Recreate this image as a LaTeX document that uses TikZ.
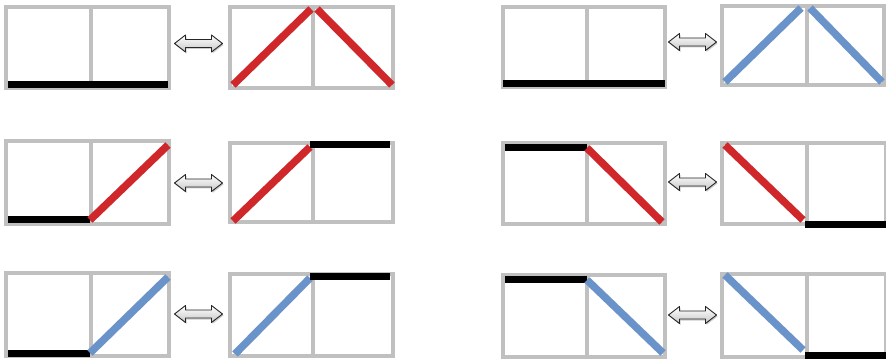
\documentclass[tikz,border=0pt]{standalone}
\usetikzlibrary{shadows}
\definecolor{boxgrey}{RGB}{192,192,192}
\definecolor{linered}{RGB}{208,40,42}
\definecolor{lineblue}{RGB}{106,147,201}
\tikzset{
  gridbox/.style={draw=boxgrey, line width=3.5pt},
  blackbar/.style={draw=black, line width=7pt},
  redbar/.style={draw=linered, line width=7.5pt},
  bluebar/.style={draw=lineblue, line width=7.5pt},
  dblarrow/.style={draw=black!85, line width=0.9pt, line join=round, top color=white, bottom color=black!22,
    drop shadow={shadow xshift=1pt, shadow yshift=-1.5pt, opacity=0.4}},
}
% \cellpair{x0}{y0}{x1}{y1}{xmid}
\newcommand{\cellpair}[5]{%
  \draw[gridbox] (#1,#2) rectangle (#3,#4);
  \draw[gridbox] (#5,#2) -- (#5,#4);
}
% \dbarrow{cx}{cy}
\newcommand{\dbarrow}[2]{%
  \path[dblarrow] (#1-24,#2) -- (#1-13,#2-8.5) -- (#1-13,#2-4) -- (#1+13,#2-4)
    -- (#1+13,#2-8.5) -- (#1+24,#2) -- (#1+13,#2+8.5) -- (#1+13,#2+4)
    -- (#1-13,#2+4) -- (#1-13,#2+8.5) -- cycle;
}
\begin{document}
\begin{tikzpicture}[x=1pt,y=-1pt]
\useasboundingbox (0,0) rectangle (886,363);
\fill[white] (0,0) rectangle (886,363);

% ---------- Row 1 ----------
\cellpair{6}{7}{169}{88}{91}
\draw[blackbar] (8,85) -- (168,85);
\cellpair{230}{7}{393}{88}{313}
\draw[redbar] (233,85) -- (311,9);
\draw[redbar] (317,9) -- (392,85);
\dbarrow{198.5}{43.5}

\cellpair{503}{7}{665}{87}{587}
\draw[blackbar] (503,84) -- (665,84);
\cellpair{722}{6}{884}{85}{807}
\draw[bluebar] (725,82) -- (801,8);
\draw[bluebar] (810,8) -- (882,82);
\dbarrow{692.5}{42}

% ---------- Row 2 ----------
\cellpair{6}{141}{169}{224}{91}
\draw[blackbar] (8,220) -- (90,220);
\draw[redbar] (90,220) -- (168,145);
\cellpair{230}{143}{393}{222}{313}
\draw[redbar] (233,221) -- (310,147);
\draw[blackbar] (310,145) -- (390,145);
\dbarrow{198.5}{183}

\cellpair{503}{143}{665}{224}{587}
\draw[blackbar] (505,148) -- (587,148);
\draw[redbar] (587,148) -- (662,222);
\cellpair{722}{143}{886}{224}{807}
\draw[redbar] (725,145) -- (803,220);
\draw[blackbar] (805,225) -- (886,225);
\dbarrow{692.5}{182}

% ---------- Row 3 ----------
\cellpair{6}{273}{169}{356}{91}
\draw[blackbar] (8,353) -- (90,353);
\draw[bluebar] (90,353) -- (168,277);
\cellpair{230}{274}{393}{356}{313}
\draw[bluebar] (235,354) -- (310,278);
\draw[blackbar] (310,277) -- (390,277);
\dbarrow{198.5}{314}

\cellpair{503}{275}{665}{357}{587}
\draw[blackbar] (505,280) -- (587,280);
\draw[bluebar] (587,280) -- (663,353);
\cellpair{722}{274}{886}{357}{807}
\draw[bluebar] (725,275) -- (803,350);
\draw[blackbar] (805,355) -- (886,355);
\dbarrow{692.5}{315}
\end{tikzpicture}
\end{document}
